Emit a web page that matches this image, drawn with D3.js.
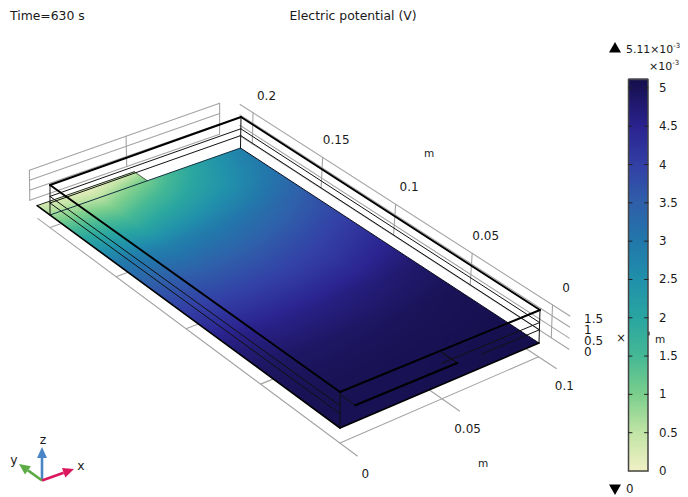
<!DOCTYPE html>
<html>
<head>
<meta charset="utf-8">
<script src="https://cdn.jsdelivr.net/npm/d3@7"></script>
<style>
html,body{margin:0;padding:0;background:#fff;overflow:hidden}
text{font-family:"DejaVu Sans",sans-serif;fill:#1a1a1a}
</style>
</head>
<body>
<svg id="chart" width="688" height="497"></svg>
<script>
// ---- data ----
const title = "Electric potential (V)";
const timeLabel = "Time=630 s";
const maxValue = 5.11, minValue = 0;
const xTicks = [0, 0.05, 0.1];
const xTickLabels = ["0", "0.05", "0.1"];
const yTicks = [0, 0.05, 0.1, 0.15, 0.2];
const yTickLabels = ["0", "0.05", "0.1", "0.15", "0.2"];
const zTicks = [0, 0.5, 1, 1.5];
const zTickLabels = ["0", "0.5", "1", "1.5"];
const layerLevels = [0.6, 0.93];
const barTicks = [0, 0.5, 1, 1.5, 2, 2.5, 3, 3.5, 4, 4.5, 5];
const barTickLabels = ["0", "0.5", "1", "1.5", "2", "2.5", "3", "3.5", "4", "4.5", "5"];
const colorValues = [0, 0.5, 1, 1.5, 2, 2.5, 3, 3.5, 4, 4.5, 5, 5.11];
const colorSwatches = ["#f2f0c6", "#c2e5a6", "#7ccf8d", "#46b995", "#2aa6a1", "#2191ab", "#2278ab", "#2f60aa", "#3340a6", "#2b2490", "#1a1358", "#160f4e"];
const gridX = [0, 0.025, 0.05, 0.075, 0.1];
const gridY = [0.21, 0.2, 0.175, 0.15, 0.125, 0.1, 0.075, 0.05, 0.025, 0];
const fieldRow210 = [0.35, 0.05, 0.45, null, null];
const fieldRow200 = [0.75, 0.55, 1.10, 2.05, 2.85];
const fieldRow175 = [2.00, 1.65, 2.05, 2.50, 3.10];
const fieldRow150 = [3.00, 2.80, 2.95, 3.20, 3.60];
const fieldRow125 = [3.60, 3.50, 3.55, 3.75, 4.00];
const fieldRow100 = [4.10, 4.02, 4.05, 4.18, 4.45];
const fieldRow075 = [4.62, 4.56, 4.60, 4.70, 4.85];
const fieldRow050 = [4.92, 4.90, 4.92, 4.97, 5.03];
const fieldRow025 = [5.03, 5.03, 5.05, 5.07, 5.09];
const fieldRow000 = [5.06, 5.07, 5.08, 5.10, 5.11];
const field = [fieldRow210, fieldRow200, fieldRow175, fieldRow150, fieldRow125, fieldRow100, fieldRow075, fieldRow050, fieldRow025, fieldRow000];

// ---- view calibration ----
const floorCorners = [[340,428],[539,343],[240.5,148],[50,215]];   // (0,0) (x,0) (x,y) (0,y)
const roofCorners  = [[340,392],[540,310],[241,117],[50,185]];
const xDom = [0, 0.1], yDom = [0, 0.2], zDom = [0, 1.5];
const uScale = d3.scaleLinear().domain(xDom).range([0,1]);
const vScale = d3.scaleLinear().domain(yDom).range([0,1]);
const wScale = d3.scaleLinear().domain(zDom).range([0,1]);

function homographyMatrix(q){
  const [[x0,y0],[x1,y1],[x2,y2],[x3,y3]] = q;
  const dx1=x1-x2, dx2=x3-x2, sx=x0-x1+x2-x3;
  const dy1=y1-y2, dy2=y3-y2, sy=y0-y1+y2-y3;
  const den=dx1*dy2-dx2*dy1;
  const g=(sx*dy2-dx2*sy)/den, h=(dx1*sy-sx*dy1)/den;
  const a=x1-x0+g*x1, b=x3-x0+h*x3, d=y1-y0+g*y1, e=y3-y0+h*y3;
  return {a,b,c:x0,d,e,f:y0,g,h};
}
const M0 = homographyMatrix(floorCorners), M1 = homographyMatrix(roofCorners);
const apply = (m,u,v)=>{const w=m.g*u+m.h*v+1;return [(m.a*u+m.b*v+m.c)/w,(m.d*u+m.e*v+m.f)/w];};
function P(x,y,z){
  const u=uScale(x), v=vScale(y), w=wScale(z);
  const a=apply(M0,u,v), b=apply(M1,u,v);
  return [a[0]+(b[0]-a[0])*w, a[1]+(b[1]-a[1])*w];
}
const line = d3.line();
const svg = d3.select("#chart");
const color = d3.scaleLinear().domain(colorValues).range(colorSwatches).interpolate(d3.interpolateRgb);

// ---- helpers ----
function seg(g, a, b, stroke, w){
  g.append("path").attr("d", line([a,b])).attr("fill","none").attr("stroke",stroke).attr("stroke-width",w).attr("stroke-linecap","round");
}
function label(t, x, y, anchor, size){
  return svg.append("text").attr("x",x).attr("y",y).attr("text-anchor",anchor||"start").attr("dominant-baseline","central").attr("font-size",size||12).text(t);
}
const GREY = "#a3a3a3";

// ---- walls and floor grid ----
const grid = svg.append("g");
const xWall = 0.1065, yWall = 0.2158, floorZ = -0.63;
const yExtHi = 0.2095, yExtLo = -0.0105;

zTicks.forEach(z=>seg(grid, P(xWall,yExtHi,z), P(xWall,yExtLo,z), GREY, 1.1));
yTicks.forEach(y=>seg(grid, P(xWall,y,zDom[0]), P(xWall,y,zDom[1]), GREY, 1.1));
zTicks.forEach(z=>seg(grid, P(xDom[0],yWall,z), P(xDom[1],yWall,z), GREY, 1.1));
xTicks.forEach(x=>seg(grid, P(x,yWall,zDom[0]), P(x,yWall,zDom[1]), GREY, 1.1));
yTicks.forEach(y=>seg(grid, P(xDom[0],y,floorZ), P(xDom[1],y,floorZ), GREY, 1.1));
seg(grid, P(0,yExtHi,floorZ), P(0,yExtLo,floorZ), GREY, 1.1);
xTicks.slice(1).forEach(x=>seg(grid, P(x,yDom[1],floorZ), P(x,yExtLo,floorZ), GREY, 1.1));

// ---- plate surface from the value table, one pixel at a time through the inverse view ----
function invert(m,px,py){
  const A=m.a-m.g*px, B=m.b-m.h*px, C=m.d-m.g*py, D=m.e-m.h*py;
  const r1=px-m.c, r2=py-m.f, det=A*D-B*C;
  return [(r1*D-B*r2)/det,(A*r2-C*r1)/det];
}
const W=688, H=497, SS=2;
const cv=document.createElement("canvas"); cv.width=W*SS; cv.height=H*SS;
const ctx=cv.getContext("2d");
const img=ctx.createImageData(cv.width,cv.height);
const xIdx=d3.scaleLinear().domain(gridX).range(d3.range(gridX.length));
const yIdx=d3.scaleLinear().domain(gridY).range(d3.range(gridY.length));
const uInv=uScale.copy().invert, vInv=vScale.copy().invert;
const lut=d3.range(0,1024).map(i=>d3.rgb(color(maxValue*i/1023)));
for(let j=0;j<cv.height;j++){
  for(let i=0;i<cv.width;i++){
    const [u,v]=invert(M0,(i+.5)/SS,(j+.5)/SS);
    const x=uInv(u), y=vInv(v);
    if(x<0||x>0.1||y<0||y>gridY[0]) continue;
    if(y>0.2&&x>0.05) continue;
    const fx=xIdx(x), fy=yIdx(y);
    const c0=Math.min(Math.floor(fx),gridX.length-2), r0=Math.min(Math.floor(fy),gridY.length-2);
    const s=fx-c0, t=fy-r0;
    const v00=field[r0][c0], v10=field[r0][c0+1], v01=field[r0+1][c0], v11=field[r0+1][c0+1];
    const val=(1-s)*(1-t)*v00+s*(1-t)*(v10===null?v00:v10)+(1-s)*t*v01+s*t*v11;
    const col=lut[Math.max(0,Math.min(1023,Math.round(val/maxValue*1023)))];
    const k=(j*cv.width+i)*4;
    img.data[k]=col.r;img.data[k+1]=col.g;img.data[k+2]=col.b;img.data[k+3]=255;
  }
}
ctx.putImageData(img,0,0);
svg.append("image").attr("x",0).attr("y",0).attr("width",W).attr("height",H).attr("href",cv.toDataURL());

// plate outline
const outline = svg.append("g");
seg(outline, P(0,gridY[0],0), P(0.05,gridY[0],0), "#1c2a1c", 1);
seg(outline, P(0.05,gridY[0],0), P(0.05,0.2,0), "#2a3a2a", 0.8);
seg(outline, P(0,0.2,0), P(0.1,0.2,0), "#103040", 1);
seg(outline, P(0.1,0.2,0), P(0.1,0,0), "#101020", 1);
seg(outline, P(0,gridY[0],0), P(0,0,0), "#000", 1.6);
seg(outline, P(0,0,0), P(0.1,0,0), "#000", 1.6);

// ---- box edges ----
const box = svg.append("g");
const corners = [[0,0],[0.1,0],[0.1,0.2],[0,0.2]];
layerLevels.forEach(z=>{
  seg(box,P(0.1,0,z),P(0.1,0.2,z),"#111",1);
  seg(box,P(0.1,0.2,z),P(0,0.2,z),"#111",1);
  seg(box,P(0,0.2,z),P(0,0,z),"#111",1);
});
seg(box,P(0.05,0,0.93),P(0.1,0,0.93),"#111",1);
seg(box,P(0.07,0,0.6),P(0.1,0,0.6),"#111",1);
corners.forEach(c=>seg(box,P(c[0],c[1],0),P(c[0],c[1],1.5),"#111",1));
corners.forEach((c,i)=>{const n=corners[(i+1)%4]; seg(box,P(c[0],c[1],1.5),P(n[0],n[1],1.5),"#000",1.9);});
// current-collector tab at the front
const tabY = -0.0095, tabZ = 1.4;
seg(box,P(0,0,tabZ),P(0,tabY,tabZ),"#111",1);
seg(box,P(0.05,0,tabZ),P(0.05,tabY,tabZ),"#111",1.2);
seg(box,P(0,tabY,tabZ),P(0.05,tabY,tabZ),"#000",2.2);

// ---- axis labels ----
yTicks.forEach((y,i)=>{const p=P(xWall,y,1.5); label(yTickLabels[i],p[0]+13.5,p[1]-17,"middle");});
zTicks.forEach((z,i)=>{const p=P(xWall,yExtLo,z); label(zTickLabels[i],584,p[1]+3,"start",12);});
xTicks.forEach((x,i)=>{const p=P(x,yExtLo,floorZ); label(xTickLabels[i],p[0]+8,p[1]+18,"middle");});
label("m",429,153,"middle",10.5);
label("m",483,463,"middle",10.5);
label("m",660,339,"middle",10.5);
label("×",621,338,"middle",11.5);

// ---- titles ----
label(timeLabel,10,15,"start",12.4);
label(title,353,15,"middle",12.4);

// ---- colour bar ----
const barY = d3.scaleLinear().domain([minValue,maxValue]).range([471,79.5]);
const barX0=628.5, barX1=648;
const steps = d3.range(0,392).map(i=>minValue+(maxValue-minValue)*i/391);
svg.append("g").selectAll("rect").data(steps).join("rect")
  .attr("x",barX0).attr("width",barX1-barX0)
  .attr("y",d=>barY(d)-1).attr("height",2)
  .attr("fill",d=>color(d));
svg.append("rect").attr("x",barX0).attr("y",barY(maxValue)).attr("width",barX1-barX0).attr("height",barY(minValue)-barY(maxValue))
  .attr("fill","none").attr("stroke","#444").attr("stroke-width",1.5);
barTicks.forEach((t,i)=>{
  const y=barY(t);
  if(t>0){
    seg(svg,[barX0,y],[barX0+3.5,y],"#222",1);
    seg(svg,[barX1-3.5,y],[barX1,y],"#222",1);
  }
  label(barTickLabels[i],659,y,"start",11.8);
});
seg(svg,[649,332],[649,335],"#222",1.2);

// ---- max / min markers ----
const tri = d3.symbol().type(d3.symbolTriangle).size(62);
svg.append("path").attr("d",tri).attr("transform","translate(615,49)").attr("fill","#000");
svg.append("path").attr("d",tri).attr("transform","translate(615,488) rotate(180)").attr("fill","#000");
const maxT = svg.append("text").attr("x",626).attr("y",52.5).attr("font-size",10.9);
maxT.append("tspan").text("5.11×10");
maxT.append("tspan").attr("font-size",7).attr("dy",-5).text("-3");
const expT = svg.append("text").attr("x",649).attr("y",70).attr("font-size",11);
expT.append("tspan").text("×10");
expT.append("tspan").attr("font-size",7).attr("dy",-5).text("-3");
label("0",626,488.5,"start",11.8);

// ---- orientation triad ----
const origin=[42,480.5];
const axes=[
  {tip:[42,447],col:"#4a86c6",name:"z",lx:43,ly:439},
  {tip:[19,464],col:"#5cab47",name:"y",lx:14,ly:459},
  {tip:[74,469],col:"#d9185f",name:"x",lx:81,ly:465}
];
axes.forEach(a=>{
  const dx=a.tip[0]-origin[0], dy=a.tip[1]-origin[1], len=Math.hypot(dx,dy), ux=dx/len, uy=dy/len;
  const base=[a.tip[0]-ux*11,a.tip[1]-uy*11];
  svg.append("path").attr("d",line([origin,base])).attr("stroke",a.col).attr("stroke-width",2.6).attr("fill","none");
  svg.append("path").attr("d",line([a.tip,[base[0]-uy*5,base[1]+ux*5],[base[0]+uy*5,base[1]-ux*5]])+"Z").attr("fill",a.col);
  label(a.name,a.lx,a.ly,"middle",12.4);
});
</script>
</body>
</html>
